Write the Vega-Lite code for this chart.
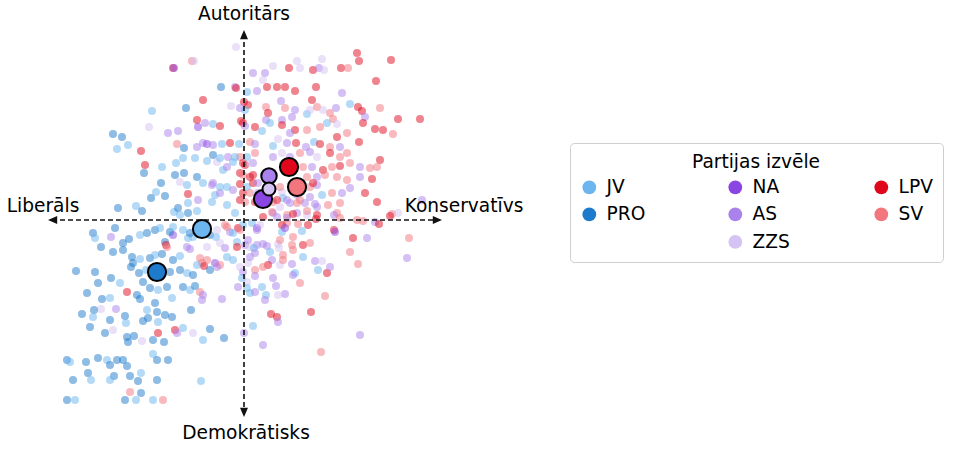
{
  "$schema": "https://vega.github.io/schema/vega-lite/v6.json",
  "width": 965,
  "height": 449,
  "padding": 0,
  "autosize": {"type": "none"},
  "background": "white",
  "config": {
    "view": {"stroke": null},
    "font": "DejaVu Sans",
    "legend": {
      "columns": 3,
      "gridAlign": "all",
      "columnPadding": 79,
      "rowPadding": 6.5,
      "padding": 10,
      "cornerRadius": 4,
      "strokeColor": "#cfcfcf",
      "fillColor": "#ffffff",
      "titleFont": "DejaVu Sans",
      "titleFontSize": 18.6,
      "titleFontWeight": "normal",
      "titleColor": "#000000",
      "titleAnchor": "middle",
      "titleAlign": "center",
      "titlePadding": 6,
      "labelFont": "DejaVu Sans",
      "labelFontSize": 18.6,
      "labelColor": "#000000",
      "labelOffset": 8,
      "symbolSize": 190,
      "symbolOpacity": 1,
      "symbolStrokeColor": "#000000",
      "symbolStrokeWidth": 1.5
    }
  },
  "datasets": {
    "pts": [
      {"p":"ZZS","x":-8,"y":173},{"p":"SV","x":-52,"y":159},{"p":"ZZS","x":-50,"y":159},{"p":"LPV","x":-71,"y":152},{"p":"NA","x":-70,"y":152},
      {"p":"PRO","x":-23,"y":133},{"p":"AS","x":-9,"y":133},{"p":"LPV","x":-8,"y":132},{"p":"JV","x":3,"y":128},{"p":"LPV","x":-41,"y":120},
      {"p":"ZZS","x":-13,"y":114},{"p":"LPV","x":0,"y":118},{"p":"JV","x":-92,"y":109},{"p":"PRO","x":-58,"y":112},{"p":"AS","x":-4,"y":112},
      {"p":"LPV","x":-47,"y":100},{"p":"ZZS","x":-95,"y":93},{"p":"AS","x":-76,"y":87},{"p":"AS","x":-66,"y":89},{"p":"NA","x":-46,"y":93},
      {"p":"AS","x":-39,"y":97},{"p":"JV","x":-31,"y":96},{"p":"LPV","x":-24,"y":94},{"p":"LPV","x":-3,"y":99},{"p":"LPV","x":-1,"y":97},
      {"p":"PRO","x":-131,"y":86},{"p":"PRO","x":-122,"y":83},{"p":"JV","x":-127,"y":71},{"p":"JV","x":-116,"y":75},{"p":"LPV","x":-103,"y":69},
      {"p":"SV","x":-67,"y":76},{"p":"PRO","x":-60,"y":72},{"p":"AS","x":-47,"y":73},{"p":"AS","x":-41,"y":77},{"p":"NA","x":-37,"y":76},
      {"p":"AS","x":-31,"y":75},{"p":"JV","x":-22,"y":76},{"p":"LPV","x":-14,"y":77},{"p":"JV","x":-5,"y":76},{"p":"LPV","x":-99,"y":55},
      {"p":"PRO","x":-100,"y":47},{"p":"JV","x":-82,"y":53},{"p":"JV","x":-68,"y":57},{"p":"JV","x":-37,"y":59},{"p":"PRO","x":-31,"y":65},
      {"p":"ZZS","x":-27,"y":58},{"p":"JV","x":-21,"y":50},{"p":"AS","x":-17,"y":53},{"p":"JV","x":-11,"y":58},{"p":"SV","x":-4,"y":63},
      {"p":"LPV","x":-1,"y":57},{"p":"PRO","x":-69,"y":45},{"p":"PRO","x":-60,"y":47},{"p":"PRO","x":-47,"y":43},{"p":"PRO","x":-83,"y":37},
      {"p":"JV","x":-88,"y":28},{"p":"PRO","x":-79,"y":24},{"p":"ZZS","x":-64,"y":38},{"p":"JV","x":-57,"y":35},{"p":"LPV","x":-56,"y":26},
      {"p":"JV","x":-41,"y":37},{"p":"AS","x":-31,"y":37},{"p":"JV","x":-29,"y":25},{"p":"AS","x":-24,"y":27},{"p":"JV","x":-17,"y":33},
      {"p":"AS","x":-11,"y":30},{"p":"LPV","x":-4,"y":36},{"p":"LPV","x":-1,"y":27},{"p":"PRO","x":-93,"y":22},{"p":"JV","x":-56,"y":17},
      {"p":"AS","x":-46,"y":20},{"p":"JV","x":-32,"y":18},{"p":"PRO","x":-126,"y":12},{"p":"JV","x":-108,"y":14},{"p":"PRO","x":-102,"y":9},
      {"p":"JV","x":-70,"y":8},{"p":"PRO","x":-66,"y":12},{"p":"JV","x":-17,"y":15},{"p":"JV","x":-9,"y":7},{"p":"JV","x":-61,"y":62},
      {"p":"JV","x":-49,"y":62},{"p":"JV","x":-24,"y":62},{"p":"AS","x":-16,"y":63},{"p":"JV","x":-9,"y":63},{"p":"AS","x":-32,"y":35},
      {"p":"JV","x":-24,"y":33},{"p":"LPV","x":-4,"y":20},{"p":"LPV","x":-4,"y":47},
      {"p":"ZZS","x":78,"y":161},{"p":"LPV","x":113,"y":167},{"p":"LPV","x":115,"y":159},{"p":"LPV","x":147,"y":160},{"p":"ZZS","x":53,"y":159},
      {"p":"AS","x":9,"y":147},{"p":"AS","x":21,"y":147},{"p":"ZZS","x":29,"y":154},{"p":"LPV","x":45,"y":152},{"p":"ZZS","x":56,"y":152},
      {"p":"LPV","x":69,"y":150},{"p":"AS","x":75,"y":152},{"p":"ZZS","x":80,"y":150},{"p":"LPV","x":97,"y":152},{"p":"SV","x":104,"y":152},
      {"p":"ZZS","x":19,"y":140},{"p":"AS","x":13,"y":129},{"p":"LPV","x":23,"y":133},{"p":"LPV","x":33,"y":133},{"p":"LPV","x":41,"y":133},
      {"p":"LPV","x":51,"y":129},{"p":"LPV","x":72,"y":133},{"p":"AS","x":98,"y":127},{"p":"LPV","x":132,"y":139},{"p":"LPV","x":4,"y":115},
      {"p":"AS","x":37,"y":119},{"p":"LPV","x":68,"y":120},{"p":"JV","x":1,"y":110},{"p":"SV","x":22,"y":113},{"p":"LPV","x":24,"y":107},
      {"p":"SV","x":41,"y":112},{"p":"AS","x":51,"y":110},{"p":"AS","x":48,"y":103},{"p":"JV","x":63,"y":106},{"p":"ZZS","x":66,"y":110},
      {"p":"SV","x":73,"y":113},{"p":"ZZS","x":79,"y":110},{"p":"SV","x":86,"y":107},{"p":"AS","x":92,"y":112},{"p":"JV","x":106,"y":116},
      {"p":"LPV","x":114,"y":113},{"p":"LPV","x":118,"y":109},{"p":"SV","x":136,"y":112},{"p":"AS","x":121,"y":103},{"p":"LPV","x":154,"y":101},
      {"p":"LPV","x":176,"y":101},{"p":"AS","x":1,"y":94},{"p":"LPV","x":11,"y":93},{"p":"AS","x":22,"y":100},{"p":"JV","x":26,"y":97},
      {"p":"AS","x":38,"y":100},{"p":"LPV","x":38,"y":95},{"p":"LPV","x":51,"y":90},{"p":"AS","x":46,"y":87},{"p":"SV","x":63,"y":90},
      {"p":"SV","x":76,"y":93},{"p":"JV","x":83,"y":97},{"p":"SV","x":89,"y":101},{"p":"ZZS","x":93,"y":96},{"p":"SV","x":103,"y":87},
      {"p":"LPV","x":93,"y":83},{"p":"LPV","x":119,"y":97},{"p":"LPV","x":131,"y":91},{"p":"LPV","x":139,"y":90},{"p":"SV","x":149,"y":86},
      {"p":"SV","x":6,"y":78},{"p":"AS","x":11,"y":76},{"p":"JV","x":18,"y":89},{"p":"ZZS","x":34,"y":81},{"p":"JV","x":29,"y":74},
      {"p":"AS","x":43,"y":77},{"p":"LPV","x":52,"y":77},{"p":"AS","x":62,"y":73},{"p":"JV","x":70,"y":78},{"p":"LPV","x":76,"y":76},
      {"p":"SV","x":86,"y":73},{"p":"AS","x":96,"y":73},{"p":"LPV","x":115,"y":78},{"p":"JV","x":3,"y":63},{"p":"SV","x":11,"y":67},
      {"p":"AS","x":29,"y":63},{"p":"ZZS","x":38,"y":67},{"p":"AS","x":46,"y":63},{"p":"SV","x":56,"y":67},{"p":"AS","x":66,"y":68},
      {"p":"ZZS","x":73,"y":63},{"p":"LPV","x":86,"y":67},{"p":"SV","x":96,"y":63},{"p":"SV","x":103,"y":67},{"p":"LPV","x":136,"y":60},
      {"p":"LPV","x":1,"y":55},{"p":"AS","x":9,"y":57},{"p":"SV","x":59,"y":53},{"p":"AS","x":68,"y":53},{"p":"LPV","x":79,"y":50},
      {"p":"SV","x":88,"y":53},{"p":"LPV","x":96,"y":54},{"p":"SV","x":106,"y":57},{"p":"AS","x":116,"y":53},{"p":"SV","x":126,"y":52},
      {"p":"SV","x":133,"y":53},{"p":"SV","x":-1,"y":45},{"p":"LPV","x":6,"y":43},{"p":"AS","x":73,"y":43},{"p":"SV","x":81,"y":45},
      {"p":"SV","x":93,"y":43},{"p":"SV","x":103,"y":40},{"p":"AS","x":116,"y":43},{"p":"LPV","x":128,"y":41},{"p":"JV","x":3,"y":33},
      {"p":"LPV","x":9,"y":37},{"p":"AS","x":14,"y":27},{"p":"SV","x":66,"y":33},{"p":"AS","x":73,"y":35},{"p":"JV","x":78,"y":25},
      {"p":"SV","x":88,"y":27},{"p":"AS","x":98,"y":27},{"p":"AS","x":106,"y":32},{"p":"LPV","x":121,"y":27},{"p":"ZZS","x":38,"y":28},
      {"p":"JV","x":39,"y":22},{"p":"AS","x":53,"y":25},{"p":"SV","x":56,"y":20},{"p":"SV","x":1,"y":18},{"p":"LPV","x":11,"y":18},
      {"p":"SV","x":29,"y":18},{"p":"ZZS","x":36,"y":13},{"p":"AS","x":46,"y":17},{"p":"AS","x":61,"y":17},{"p":"AS","x":71,"y":16},
      {"p":"SV","x":84,"y":15},{"p":"SV","x":96,"y":17},{"p":"LPV","x":133,"y":18},{"p":"AS","x":178,"y":20},{"p":"SV","x":148,"y":6},
      {"p":"ZZS","x":154,"y":7},{"p":"AS","x":29,"y":7},{"p":"SV","x":43,"y":5},{"p":"AS","x":53,"y":7},{"p":"ZZS","x":63,"y":5},
      {"p":"LPV","x":73,"y":5},{"p":"SV","x":93,"y":7},{"p":"ZZS","x":6,"y":57},{"p":"LPV","x":9,"y":45},{"p":"AS","x":14,"y":37},
      {"p":"SV","x":6,"y":27},{"p":"SV","x":36,"y":33},{"p":"LPV","x":33,"y":20},{"p":"AS","x":43,"y":20},{"p":"SV","x":53,"y":17},
      {"p":"SV","x":63,"y":43},{"p":"LPV","x":69,"y":37},{"p":"AS","x":66,"y":23},{"p":"AS","x":73,"y":13},
      {"p":"LPV","x":19,"y":3},{"p":"SV","x":28,"y":8},{"p":"AS","x":33,"y":3},{"p":"AS","x":43,"y":2},{"p":"LPV","x":49,"y":6},
      {"p":"SV","x":63,"y":9},{"p":"LPV","x":72,"y":1},{"p":"LPV","x":64,"y":-5},{"p":"SV","x":54,"y":-4},{"p":"SV","x":43,"y":-3},
      {"p":"LPV","x":38,"y":-5},{"p":"AS","x":90,"y":5},{"p":"SV","x":96,"y":2},{"p":"SV","x":113,"y":0},{"p":"SV","x":119,"y":-1},
      {"p":"AS","x":131,"y":-2},{"p":"LPV","x":135,"y":-4},{"p":"LPV","x":146,"y":4},{"p":"JV","x":8,"y":-3},{"p":"NA","x":13,"y":-8},
      {"p":"ZZS","x":16,"y":-5},{"p":"JV","x":38,"y":-12},{"p":"NA","x":41,"y":-8},{"p":"JV","x":58,"y":-11},{"p":"LPV","x":90,"y":-10},
      {"p":"NA","x":91,"y":-12},{"p":"SV","x":49,"y":-17},{"p":"SV","x":48,"y":-25},{"p":"LPV","x":59,"y":-25},{"p":"LPV","x":109,"y":-18},
      {"p":"AS","x":123,"y":-18},{"p":"SV","x":165,"y":-18},{"p":"AS","x":4,"y":-20},{"p":"AS","x":1,"y":-25},{"p":"ZZS","x":6,"y":-27},
      {"p":"AS","x":13,"y":-25},{"p":"AS","x":19,"y":-24},{"p":"AS","x":23,"y":-26},{"p":"ZZS","x":34,"y":-24},{"p":"ZZS","x":35,"y":-28},
      {"p":"JV","x":10,"y":-28},{"p":"JV","x":26,"y":-32},{"p":"AS","x":11,"y":-33},{"p":"SV","x":39,"y":-35},{"p":"JV","x":59,"y":-37},
      {"p":"SV","x":106,"y":-32},{"p":"AS","x":163,"y":-38},{"p":"AS","x":71,"y":-41},{"p":"ZZS","x":78,"y":-41},{"p":"JV","x":74,"y":-50},
      {"p":"LPV","x":83,"y":-53},{"p":"AS","x":86,"y":-47},{"p":"SV","x":114,"y":-44},{"p":"AS","x":28,"y":-40},{"p":"LPV","x":24,"y":-45},
      {"p":"ZZS","x":36,"y":-45},{"p":"AS","x":48,"y":-44},{"p":"ZZS","x":4,"y":-43},{"p":"AS","x":-1,"y":-52},{"p":"SV","x":11,"y":-50},
      {"p":"AS","x":11,"y":-56},{"p":"JV","x":51,"y":-53},{"p":"AS","x":29,"y":-58},{"p":"AS","x":32,"y":-66},{"p":"AS","x":41,"y":-74},
      {"p":"ZZS","x":3,"y":-62},{"p":"JV","x":3,"y":-68},{"p":"JV","x":6,"y":-73},{"p":"JV","x":18,"y":-67},{"p":"AS","x":11,"y":-72},
      {"p":"JV","x":22,"y":-75},{"p":"AS","x":21,"y":-80},{"p":"ZZS","x":34,"y":-75},{"p":"SV","x":81,"y":-76},{"p":"LPV","x":27,"y":-94},
      {"p":"LPV","x":33,"y":-97},{"p":"AS","x":34,"y":-102},{"p":"LPV","x":67,"y":-92},{"p":"JV","x":9,"y":-106},{"p":"AS","x":0,"y":-113},
      {"p":"AS","x":116,"y":-115},{"p":"AS","x":19,"y":-125},{"p":"SV","x":77,"y":-132},{"p":"AS","x":13,"y":-10},{"p":"SV","x":36,"y":-20},
      {"p":"SV","x":49,"y":-30},{"p":"SV","x":66,"y":-23},{"p":"AS","x":6,"y":-37},{"p":"SV","x":19,"y":-47},{"p":"SV","x":39,"y":-40},
      {"p":"AS","x":49,"y":-55},{"p":"SV","x":56,"y":-63},
      {"p":"JV","x":-64,"y":5},{"p":"PRO","x":-56,"y":7},{"p":"JV","x":-47,"y":9},{"p":"SV","x":-19,"y":-5},{"p":"AS","x":-14,"y":-12},
      {"p":"LPV","x":-6,"y":-8},{"p":"JV","x":-1,"y":-5},{"p":"PRO","x":-151,"y":-13},{"p":"JV","x":-149,"y":-18},{"p":"PRO","x":-143,"y":-27},
      {"p":"PRO","x":-129,"y":-8},{"p":"AS","x":-133,"y":-17},{"p":"PRO","x":-115,"y":-19},{"p":"PRO","x":-121,"y":-23},{"p":"JV","x":-104,"y":-15},
      {"p":"PRO","x":-97,"y":-13},{"p":"PRO","x":-89,"y":-10},{"p":"JV","x":-84,"y":-8},{"p":"NA","x":-71,"y":-15},{"p":"PRO","x":-74,"y":-12},
      {"p":"PRO","x":-79,"y":-22},{"p":"LPV","x":-78,"y":-25},{"p":"AS","x":-57,"y":-27},{"p":"JV","x":-56,"y":-18},{"p":"JV","x":-51,"y":-17},
      {"p":"PRO","x":-34,"y":-15},{"p":"JV","x":-28,"y":-17},{"p":"ZZS","x":-37,"y":-27},{"p":"ZZS","x":-24,"y":-23},{"p":"AS","x":-19,"y":-28},
      {"p":"JV","x":-7,"y":-22},{"p":"PRO","x":-131,"y":-32},{"p":"PRO","x":-121,"y":-30},{"p":"PRO","x":-112,"y":-37},{"p":"PRO","x":-111,"y":-43},
      {"p":"JV","x":-104,"y":-39},{"p":"PRO","x":-94,"y":-38},{"p":"JV","x":-89,"y":-35},{"p":"PRO","x":-82,"y":-34},{"p":"PRO","x":-71,"y":-40},
      {"p":"JV","x":-64,"y":-36},{"p":"SV","x":-42,"y":-43},{"p":"LPV","x":-40,"y":-46},{"p":"SV","x":-37,"y":-40},{"p":"NA","x":-29,"y":-43},
      {"p":"SV","x":-24,"y":-45},{"p":"JV","x":-11,"y":-40},{"p":"ZZS","x":-4,"y":-47},{"p":"PRO","x":-168,"y":-51},{"p":"PRO","x":-149,"y":-52},
      {"p":"PRO","x":-113,"y":-47},{"p":"PRO","x":-105,"y":-53},{"p":"JV","x":-98,"y":-50},{"p":"PRO","x":-74,"y":-52},{"p":"PRO","x":-64,"y":-50},
      {"p":"JV","x":-57,"y":-53},{"p":"PRO","x":-51,"y":-55},{"p":"JV","x":-47,"y":-45},{"p":"PRO","x":-34,"y":-50},{"p":"PRO","x":-133,"y":-58},
      {"p":"JV","x":-124,"y":-63},{"p":"PRO","x":-146,"y":-63},{"p":"PRO","x":-101,"y":-62},{"p":"PRO","x":-94,"y":-68},{"p":"JV","x":-86,"y":-70},
      {"p":"PRO","x":-77,"y":-67},{"p":"PRO","x":-157,"y":-73},{"p":"PRO","x":-142,"y":-79},{"p":"JV","x":-134,"y":-78},{"p":"LPV","x":-117,"y":-72},
      {"p":"PRO","x":-107,"y":-75},{"p":"PRO","x":-104,"y":-79},{"p":"JV","x":-72,"y":-78},{"p":"PRO","x":-61,"y":-67},{"p":"JV","x":-54,"y":-70},
      {"p":"PRO","x":-49,"y":-66},{"p":"SV","x":-44,"y":-72},{"p":"AS","x":-41,"y":-75},{"p":"AS","x":-42,"y":-80},{"p":"AS","x":-22,"y":-79},
      {"p":"AS","x":-6,"y":-67},{"p":"JV","x":-2,"y":-58},{"p":"PRO","x":-89,"y":-83},{"p":"JV","x":-97,"y":-90},{"p":"PRO","x":-87,"y":-92},
      {"p":"PRO","x":-96,"y":-98},{"p":"PRO","x":-101,"y":-101},{"p":"ZZS","x":-143,"y":-89},{"p":"AS","x":-128,"y":-89},{"p":"PRO","x":-150,"y":-90},
      {"p":"PRO","x":-162,"y":-94},{"p":"JV","x":-151,"y":-97},{"p":"PRO","x":-134,"y":-100},{"p":"PRO","x":-119,"y":-96},{"p":"JV","x":-118,"y":-103},
      {"p":"PRO","x":-154,"y":-107},{"p":"JV","x":-86,"y":-102},{"p":"PRO","x":-79,"y":-95},{"p":"PRO","x":-72,"y":-97},{"p":"PRO","x":-53,"y":-90},
      {"p":"LPV","x":-69,"y":-110},{"p":"AS","x":-67,"y":-113},{"p":"LPV","x":-86,"y":-113},{"p":"JV","x":-61,"y":-108},{"p":"PRO","x":-139,"y":-113},
      {"p":"ZZS","x":-131,"y":-110},{"p":"PRO","x":-117,"y":-117},{"p":"PRO","x":-116,"y":-122},{"p":"PRO","x":-110,"y":-116},{"p":"ZZS","x":-102,"y":-121},
      {"p":"PRO","x":-91,"y":-120},{"p":"PRO","x":-80,"y":-122},{"p":"ZZS","x":-51,"y":-113},{"p":"JV","x":-41,"y":-120},{"p":"PRO","x":-34,"y":-109},
      {"p":"PRO","x":-20,"y":-118},{"p":"PRO","x":-177,"y":-140},{"p":"JV","x":-174,"y":-142},{"p":"PRO","x":-158,"y":-142},{"p":"PRO","x":-146,"y":-138},
      {"p":"JV","x":-137,"y":-140},{"p":"PRO","x":-134,"y":-145},{"p":"PRO","x":-127,"y":-140},{"p":"PRO","x":-121,"y":-140},{"p":"PRO","x":-117,"y":-146},
      {"p":"JV","x":-91,"y":-134},{"p":"PRO","x":-87,"y":-140},{"p":"PRO","x":-76,"y":-140},{"p":"PRO","x":-156,"y":-153},{"p":"PRO","x":-171,"y":-160},
      {"p":"JV","x":-153,"y":-160},{"p":"PRO","x":-130,"y":-156},{"p":"JV","x":-134,"y":-160},{"p":"PRO","x":-114,"y":-156},{"p":"JV","x":-103,"y":-153},
      {"p":"PRO","x":-106,"y":-161},{"p":"PRO","x":-87,"y":-160},{"p":"JV","x":-43,"y":-161},{"p":"PRO","x":-177,"y":-180},{"p":"JV","x":-169,"y":-180},
      {"p":"PRO","x":-119,"y":-180},{"p":"JV","x":-108,"y":-180},{"p":"PRO","x":-103,"y":-173},{"p":"JV","x":-91,"y":-180},{"p":"SV","x":-81,"y":-180},
      {"p":"SV","x":-114,"y":-172},{"p":"JV","x":-71,"y":-7},{"p":"JV","x":-61,"y":-10},{"p":"PRO","x":-54,"y":-13},{"p":"ZZS","x":-27,"y":-10},
      {"p":"SV","x":-17,"y":-7},{"p":"JV","x":-11,"y":-13},{"p":"SV","x":-4,"y":-10},{"p":"SV","x":-77,"y":-27},{"p":"AS","x":-54,"y":-29},
      {"p":"SV","x":-44,"y":-38},{"p":"AS","x":-27,"y":-47},{"p":"JV","x":-17,"y":-37},{"p":"LPV","x":-7,"y":-27}
    ],
    "cent": [
      {"p":"JV","x":-42,"y":-9},
      {"p":"PRO","x":-87,"y":-52},
      {"p":"NA","x":19,"y":21},
      {"p":"AS","x":25,"y":44},
      {"p":"ZZS","x":25,"y":31},
      {"p":"LPV","x":45,"y":53},
      {"p":"SV","x":53,"y":33}
    ],
    "axes": [
      {"x":-192,"x2":194,"y":0,"y2":0},
      {"x":0,"x2":0,"y":186,"y2":-193}
    ],
    "heads": [
      {"dir":"left","x":-191.4,"y":0},
      {"dir":"right","x":193.4,"y":0},
      {"dir":"up","x":0,"y":185.4},
      {"dir":"down","x":0,"y":-192.4}
    ],
    "labels": [
      {"t":"Autoritārs","x":0,"y":206},
      {"t":"Demokrātisks","x":2,"y":-213},
      {"t":"Liberāls","x":-201,"y":14},
      {"t":"Konservatīvs","x":220,"y":14}
    ]
  },
  "layer": [
    {
      "data": {"name": "pts"},
      "mark": {"type": "point", "filled": true, "opacity": 0.5, "size": 64, "strokeWidth": 1.5},
      "encoding": {
        "x": {"field": "x", "type": "quantitative", "scale": {"domain": [-244, 721], "nice": false, "zero": false}, "axis": null},
        "y": {"field": "y", "type": "quantitative", "scale": {"domain": [-229, 220], "nice": false, "zero": false}, "axis": null},
        "color": {
          "field": "p", "type": "nominal",
          "scale": {
            "domain": ["JV", "PRO", "_a", "NA", "AS", "ZZS", "LPV", "SV", "_b"],
            "range": ["#6cb5ef", "#1e7acb", "#ffffff", "#8b45e3", "#a982ec", "#d5c3f3", "#e0071d", "#f2767e", "#ffffff"]
          }
        }
      }
    },
    {
      "data": {"name": "axes"},
      "mark": {"type": "rule", "color": "#111111", "strokeWidth": 1.6, "strokeDash": [5, 3]},
      "encoding": {
        "x": {"field": "x", "type": "quantitative", "scale": {"domain": [-244, 721], "nice": false, "zero": false}, "axis": null},
        "x2": {"field": "x2"},
        "y": {"field": "y", "type": "quantitative", "scale": {"domain": [-229, 220], "nice": false, "zero": false}, "axis": null},
        "y2": {"field": "y2"}
      }
    },
    {
      "data": {"name": "heads"},
      "transform": [{"filter": "datum.dir === 'up'"}],
      "mark": {"type": "point", "filled": true, "color": "#111111", "opacity": 1, "size": 64, "strokeWidth": 0, "shape": "M0,-1.15L1,1.15L-1,1.15Z"},
      "encoding": {
        "x": {"field": "x", "type": "quantitative", "scale": {"domain": [-244, 721], "nice": false, "zero": false}, "axis": null},
        "y": {"field": "y", "type": "quantitative", "scale": {"domain": [-229, 220], "nice": false, "zero": false}, "axis": null}
      }
    },
    {
      "data": {"name": "heads"},
      "transform": [{"filter": "datum.dir === 'down'"}],
      "mark": {"type": "point", "filled": true, "color": "#111111", "opacity": 1, "size": 64, "strokeWidth": 0, "shape": "M0,1.15L1,-1.15L-1,-1.15Z"},
      "encoding": {
        "x": {"field": "x", "type": "quantitative", "scale": {"domain": [-244, 721], "nice": false, "zero": false}, "axis": null},
        "y": {"field": "y", "type": "quantitative", "scale": {"domain": [-229, 220], "nice": false, "zero": false}, "axis": null}
      }
    },
    {
      "data": {"name": "heads"},
      "transform": [{"filter": "datum.dir === 'left'"}],
      "mark": {"type": "point", "filled": true, "color": "#111111", "opacity": 1, "size": 64, "strokeWidth": 0, "shape": "M-1.15,0L1.15,-1L1.15,1Z"},
      "encoding": {
        "x": {"field": "x", "type": "quantitative", "scale": {"domain": [-244, 721], "nice": false, "zero": false}, "axis": null},
        "y": {"field": "y", "type": "quantitative", "scale": {"domain": [-229, 220], "nice": false, "zero": false}, "axis": null}
      }
    },
    {
      "data": {"name": "heads"},
      "transform": [{"filter": "datum.dir === 'right'"}],
      "mark": {"type": "point", "filled": true, "color": "#111111", "opacity": 1, "size": 64, "strokeWidth": 0, "shape": "M1.15,0L-1.15,-1L-1.15,1Z"},
      "encoding": {
        "x": {"field": "x", "type": "quantitative", "scale": {"domain": [-244, 721], "nice": false, "zero": false}, "axis": null},
        "y": {"field": "y", "type": "quantitative", "scale": {"domain": [-229, 220], "nice": false, "zero": false}, "axis": null}
      }
    },
    {
      "data": {"name": "cent"},
      "mark": {"type": "point", "filled": true, "opacity": 1, "stroke": "black", "strokeWidth": 2},
      "encoding": {
        "x": {"field": "x", "type": "quantitative", "scale": {"domain": [-244, 721], "nice": false, "zero": false}, "axis": null},
        "y": {"field": "y", "type": "quantitative", "scale": {"domain": [-229, 220], "nice": false, "zero": false}, "axis": null},
        "color": {
          "field": "p", "type": "nominal",
          "legend": {
            "title": "Partijas izvēle",
            "orient": "none",
            "legendX": 570,
            "legendY": 143,
            "columns": 3,
            "symbolOpacity": 1,
            "symbolStrokeColor": "#000000",
            "symbolStrokeWidth": 1.5,
            "labelExpr": "indexof(datum.label, '_') === 0 ? '' : datum.label"
          }
        },
        "shape": {
          "field": "p", "type": "nominal",
          "scale": {
            "domain": ["JV", "PRO", "_a", "NA", "AS", "ZZS", "LPV", "SV", "_b"],
            "range": ["circle", "circle", "M0,0", "circle", "circle", "circle", "circle", "circle", "M0,0"]
          },
          "legend": {
            "title": "Partijas izvēle",
            "orient": "none",
            "legendX": 570,
            "legendY": 143,
            "columns": 3,
            "symbolOpacity": 1,
            "symbolStrokeColor": "#000000",
            "symbolStrokeWidth": 1.5,
            "labelExpr": "indexof(datum.label, '_') === 0 ? '' : datum.label"
          }
        },
        "size": {
          "condition": [
            {"test": "datum.p === 'ZZS'", "value": 170},
            {"test": "datum.p === 'AS'", "value": 240}
          ],
          "value": 330
        }
      }
    },
    {
      "data": {"name": "labels"},
      "mark": {"type": "text", "font": "DejaVu Sans", "fontSize": 18.6, "color": "#000000", "align": "center", "baseline": "middle"},
      "encoding": {
        "x": {"field": "x", "type": "quantitative", "scale": {"domain": [-244, 721], "nice": false, "zero": false}, "axis": null},
        "y": {"field": "y", "type": "quantitative", "scale": {"domain": [-229, 220], "nice": false, "zero": false}, "axis": null},
        "text": {"field": "t"}
      }
    }
  ]
}
